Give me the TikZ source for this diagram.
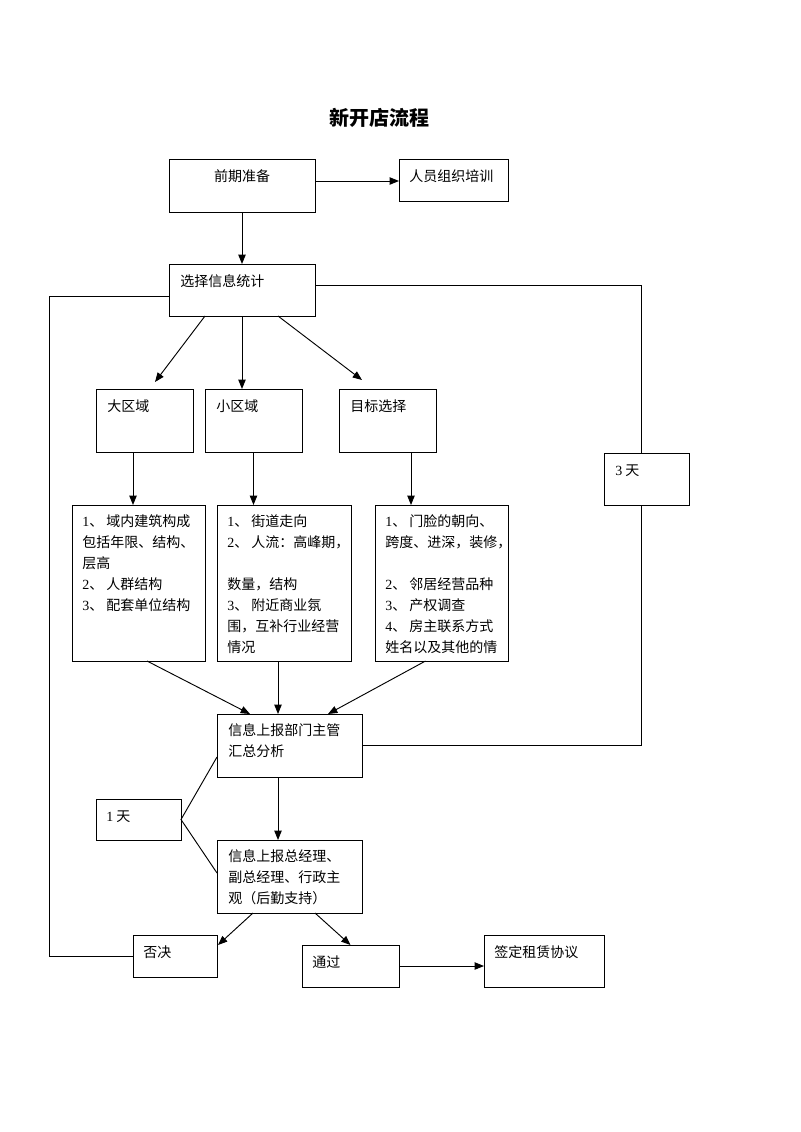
\documentclass[tikz,border=0pt]{standalone}
\usepackage{fontspec}
\setmainfont{Liberation Serif}
\newfontfamily\cjk{Noto Sans CJK SC}
\usetikzlibrary{arrows.meta,fit,calc}
\newcommand\dg[1]{{\rmfamily #1}}
\tikzset{
  box/.style={draw, line width=0.7pt, inner sep=0pt, outer sep=0pt},
  txt/.style={anchor=north west, inner sep=0pt, align=left, font=\cjk\fontsize{10.5}{15.75}\selectfont,
    execute at begin node={\rule{0pt}{10pt}}},
  arr/.style={-{Triangle[length=7pt,width=5.5pt]}, line width=0.7pt},
  ln/.style={line width=0.7pt}
}
\begin{document}
\begin{tikzpicture}[x=0.75pt,y=-0.75pt]
\useasboundingbox[fill=white] (0,0) rectangle (800,1132);
% title
\node[inner sep=0pt, font=\cjk\bfseries\fontsize{15}{18}\selectfont] (title) at (379,118) {新开店流程};
% boxes
\node[box, fit={(169,159)(315,212)}] (pq) {};
\node[box, fit={(399,159)(508,201)}] (ry) {};
\node[box, fit={(169,264)(315,316)}] (xz) {};
\node[box, fit={(96,389)(193,452)}] (dq) {};
\node[box, fit={(205,389)(302,452)}] (xq) {};
\node[box, fit={(339,389)(436,452)}] (mb) {};
\node[box, fit={(604,453)(689,505)}] (td) {};
\node[box, fit={(72,505)(205,661)}] (d1) {};
\node[box, fit={(217,505)(351,661)}] (d2) {};
\node[box, fit={(375,505)(508,661)}] (d3) {};
\node[box, fit={(217,714)(362,777)}] (bm) {};
\node[box, fit={(96,799)(181,840)}] (ot) {};
\node[box, fit={(217,840)(362,913)}] (zj) {};
\node[box, fit={(133,935)(217,977)}] (fj) {};
\node[box, fit={(302,945)(399,987)}] (tg) {};
\node[box, fit={(484,935)(604,987)}] (qd) {};
% texts
\node[txt, anchor=north] (tpq) at ($(pq.north)+(0,9)$) {前期准备};
\node[txt] (try) at ($(ry.north west)+(10,9)$) {人员组织培训};
\node[txt] (txz) at ($(xz.north west)+(11,9)$) {选择信息统计};
\node[txt] (tdq) at ($(dq.north west)+(11,9)$) {大区域};
\node[txt] (txq) at ($(xq.north west)+(11,9)$) {小区域};
\node[txt] (tmb) at ($(mb.north west)+(11,9)$) {目标选择};
\node[txt] (ttd) at ($(td.north west)+(11,9)$) {\dg{3} 天};
\node[txt] (td1) at ($(d1.north west)+(10,9)$) {\dg{1}、 域内建筑构成\\包括年限、结构、\\层高\\\dg{2}、 人群结构\\\dg{3}、 配套单位结构};
\node[txt] (td2) at ($(d2.north west)+(10,9)$) {\dg{1}、 街道走向\\\dg{2}、 人流：高峰期，\\\mbox{}\\数量，结构\\\dg{3}、 附近商业氛\\围，互补行业经营\\情况};
\node[txt] (td3) at ($(d3.north west)+(10,9)$) {\dg{1}、 门脸的朝向、\\跨度、进深，装修，\\\mbox{}\\\dg{2}、 邻居经营品种\\\dg{3}、 产权调查\\\dg{4}、 房主联系方式\\姓名以及其他的情};
\node[txt] (tbm) at ($(bm.north west)+(11,9)$) {信息上报部门主管\\汇总分析};
\node[txt] (tot) at ($(ot.north west)+(10,9)$) {\dg{1} 天};
\node[txt] (tzj) at ($(zj.north west)+(11,9)$) {信息上报总经理、\\副总经理、行政主\\观（后勤支持）};
\node[txt] (tfj) at ($(fj.north west)+(10,9)$) {否决};
\node[txt] (ttg) at ($(tg.north west)+(10,9)$) {通过};
\node[txt] (tqd) at ($(qd.north west)+(10,9)$) {签定租赁协议};
% connectors
\draw[arr] ($(pq.east)+(0,-4.5)$) coordinate (a0) -- (a0 -| ry.west);
\draw[arr] (pq.south) -- (xz.north);
\draw[arr] ($(xz.south)+(-37,0)$) -- ($(dq.north)+(10.5,-7)$);
\draw[arr] (xz.south) -- (xz.south |- xq.north);
\draw[arr] ($(xz.south)+(36,0)$) -- ($(mb.north)+(-25.5,-9)$);
\draw[arr] ($(dq.south)+(-11.5,0)$) coordinate (a1) -- (a1 |- d1.north);
\draw[arr] (xq.south) -- (xq.south |- d2.north);
\draw[arr] ($(mb.south)+(23.5,0)$) coordinate (a3) -- (a3 |- d3.north);
\draw[arr] ($(d1.south)+(8.5,0)$) -- ($(bm.north)+(-39.5,0)$);
\draw[arr] ($(d2.south)+(-6,0)$) coordinate (a5) -- (a5 |- bm.north);
\draw[arr] ($(d3.south)+(-16,0)$) -- ($(bm.north)+(38.5,0)$);
\draw[arr] ($(bm.south)+(-11.5,0)$) coordinate (a7) -- (a7 |- zj.north);
\draw[ln] ($(bm.south west)+(0,-20)$) -- (ot.east) -- ($(zj.west)+(0,-3.5)$);
\draw[arr] ($(zj.south)+(-36.5,0)$) -- ($(fj.north east)+(1,10)$);
\draw[arr] ($(zj.south)+(25.5,0)$) -- (tg.north);
\draw[arr] (tg.east) -- (tg.east -| qd.west);
% loops
\coordinate (L) at (49,0);
\coordinate (R) at (641,0);
\draw[ln] ($(xz.west)+(0,6)$) coordinate (b1) -- (b1 -| L) -- (fj.west -| L) -- (fj.west);
\draw[ln] ($(xz.east)+(0,-5)$) coordinate (b2) -- (b2 -| R) -- (td.north -| R);
\draw[ln] (td.south -| R) -- (bm.east -| R) -- (bm.east);
\end{tikzpicture}
\end{document}
